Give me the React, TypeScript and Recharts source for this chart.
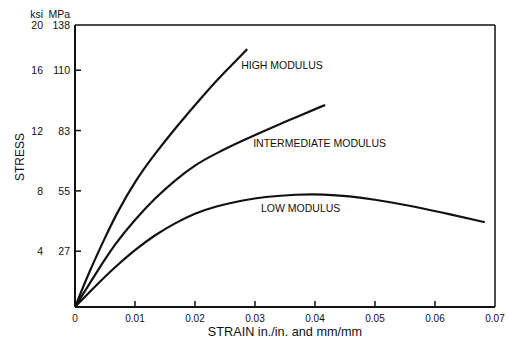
import { LineChart, Line, XAxis, YAxis, ReferenceDot } from 'recharts'

const STRAIN_TICKS = [0, 0.01, 0.02, 0.03, 0.04, 0.05, 0.06, 0.07]
const STRAIN_LABELS = ['0', '0.01', '0.02', '0.03', '0.04', '0.05', '0.06', '0.07']
const STRESS_TICKS = [4, 8, 12, 16, 19]
const KSI_LABELS = ['4', '8', '12', '16', '20']
const MPA_LABELS = ['27', '55', '83', '110', '138']

// stress in ksi (axis scale), strain in in./in.
const HIGH_MODULUS = [
  { strain: 0, stress: 0.3 },
  { strain: 0.0025, stress: 2.75 },
  { strain: 0.005, stress: 4.9 },
  { strain: 0.007, stress: 6.55 },
  { strain: 0.01, stress: 8.65 },
  { strain: 0.0133, stress: 10.45 },
  { strain: 0.0167, stress: 12.15 },
  { strain: 0.0214, stress: 14.36 },
  { strain: 0.025, stress: 15.9 },
  { strain: 0.0287, stress: 17.4 },
]

const INTERMEDIATE_MODULUS = [
  { strain: 0, stress: 0.3 },
  { strain: 0.0033, stress: 2.42 },
  { strain: 0.0067, stress: 4.52 },
  { strain: 0.01, stress: 6.1 },
  { strain: 0.0133, stress: 7.51 },
  { strain: 0.0167, stress: 8.72 },
  { strain: 0.02, stress: 9.72 },
  { strain: 0.0233, stress: 10.45 },
  { strain: 0.0283, stress: 11.4 },
  { strain: 0.0314, stress: 11.95 },
  { strain: 0.037, stress: 12.92 },
  { strain: 0.0417, stress: 13.7 },
]

const LOW_MODULUS = [
  { strain: 0, stress: 0.3 },
  { strain: 0.0033, stress: 1.65 },
  { strain: 0.0067, stress: 2.97 },
  { strain: 0.01, stress: 4.1 },
  { strain: 0.0133, stress: 5.07 },
  { strain: 0.0167, stress: 5.87 },
  { strain: 0.02, stress: 6.51 },
  { strain: 0.0233, stress: 6.97 },
  { strain: 0.0283, stress: 7.4 },
  { strain: 0.0314, stress: 7.6 },
  { strain: 0.037, stress: 7.77 },
  { strain: 0.0415, stress: 7.78 },
  { strain: 0.0458, stress: 7.64 },
  { strain: 0.0497, stress: 7.44 },
  { strain: 0.0553, stress: 7.06 },
  { strain: 0.0608, stress: 6.6 },
  { strain: 0.0683, stress: 5.92 },
]

const CURVE_LABELS = [
  { text: 'HIGH MODULUS', strain: 0.0277, stress: 16.35 },
  { text: 'INTERMEDIATE MODULUS', strain: 0.0297, stress: 11.16 },
  { text: 'LOW MODULUS', strain: 0.031, stress: 6.88 },
]

const FONT = '"Liberation Sans", Arial, sans-serif'
const INK = '#111'

function BottomTick({ x, y, payload }: any) {
  const i = STRAIN_TICKS.indexOf(payload.value)
  const edge = i === 0 || i === STRAIN_TICKS.length - 1
  return (
    <g>
      {!edge && <line x1={x} x2={x} y1={y} y2={y - 6} stroke={INK} strokeWidth={1.5} />}
      <text x={x} y={y + 11} textAnchor="middle" dominantBaseline="central" fontSize={10} fontFamily={FONT} fill={INK}>
        {STRAIN_LABELS[i]}
      </text>
    </g>
  )
}

function TopTick({ x, y, payload }: any) {
  const i = STRAIN_TICKS.indexOf(payload.value)
  if (i === 0 || i === STRAIN_TICKS.length - 1) return <g />
  return <line x1={x} x2={x} y1={y} y2={y + 6} stroke={INK} strokeWidth={1.5} />
}

function LeftTick({ x, y, payload }: any) {
  const i = STRESS_TICKS.indexOf(payload.value)
  const isTop = i === STRESS_TICKS.length - 1
  const common = { fontSize: 10.5, fontFamily: FONT, fill: INK, textAnchor: 'end' as const, dominantBaseline: 'central' as const }
  return (
    <g>
      {!isTop && <line x1={x} x2={x + 6} y1={y} y2={y} stroke={INK} strokeWidth={1.5} />}
      {isTop && (
        <>
          <text x={x - 32} y={y - 11} {...common}>ksi</text>
          <text x={x - 5} y={y - 11} {...common}>MPa</text>
        </>
      )}
      <text x={x - 32} y={y} {...common}>{KSI_LABELS[i]}</text>
      <text x={x - 5} y={y} {...common}>{MPA_LABELS[i]}</text>
    </g>
  )
}

function RightTick({ x, y, payload }: any) {
  const i = STRESS_TICKS.indexOf(payload.value)
  if (i === STRESS_TICKS.length - 1) return <g />
  return <line x1={x} x2={x - 6} y1={y} y2={y} stroke={INK} strokeWidth={1.5} />
}

function StressLabel() {
  return (
    <text
      x={20}
      y={157}
      transform="rotate(-90, 20, 157)"
      textAnchor="middle"
      dominantBaseline="central"
      fontSize={12}
      fontFamily={FONT}
      fill={INK}
    >
      STRESS
    </text>
  )
}

export default function App() {
  const axisLine = { stroke: INK, strokeWidth: 2 }
  return (
    <div style={{ position: 'absolute', left: 0, top: 0, background: '#fff' }}>
      <LineChart width={509} height={345} margin={{ top: 0, right: 0, bottom: 0, left: 0 }}>
        <XAxis
          xAxisId="bottom"
          type="number"
          dataKey="strain"
          domain={[0, 0.07]}
          ticks={STRAIN_TICKS}
          interval={0}
          height={38}
          tickSize={0}
          tickMargin={0}
          tickLine={false}
          axisLine={axisLine}
          tick={<BottomTick />}
          label={{
            value: 'STRAIN in./in. and mm/mm',
            position: 'insideBottom',
            offset: 9,
            fontSize: 12.7,
            fontFamily: FONT,
            fill: INK,
          }}
        />
        <XAxis
          xAxisId="top"
          orientation="top"
          type="number"
          dataKey="strain"
          domain={[0, 0.07]}
          ticks={STRAIN_TICKS}
          interval={0}
          height={25}
          tickSize={0}
          tickMargin={0}
          tickLine={false}
          axisLine={{ stroke: INK, strokeWidth: 1.5 }}
          tick={<TopTick />}
        />
        <YAxis
          yAxisId="left"
          type="number"
          domain={[0.3, 19]}
          ticks={STRESS_TICKS}
          interval={0}
          width={75}
          tickSize={0}
          tickMargin={0}
          tickLine={false}
          axisLine={axisLine}
          tick={<LeftTick />}
          label={<StressLabel />}
        />
        <YAxis
          yAxisId="right"
          orientation="right"
          type="number"
          domain={[0.3, 19]}
          ticks={STRESS_TICKS}
          interval={0}
          width={14}
          tickSize={0}
          tickMargin={0}
          tickLine={false}
          axisLine={{ stroke: INK, strokeWidth: 1.5 }}
          tick={<RightTick />}
        />
        {[HIGH_MODULUS, INTERMEDIATE_MODULUS, LOW_MODULUS].map((d, k) => (
          <Line
            key={k}
            xAxisId="bottom"
            yAxisId="left"
            data={d}
            dataKey="stress"
            type="basis"
            stroke={INK}
            strokeWidth={2.2}
            dot={false}
            activeDot={false}
            isAnimationActive={false}
          />
        ))}
        {CURVE_LABELS.map((l) => (
          <ReferenceDot
            key={l.text}
            xAxisId="bottom"
            yAxisId="left"
            x={l.strain}
            y={l.stress}
            r={0}
            fill="none"
            stroke="none"
            label={(props: any) => (
              <text
                x={props.viewBox.x}
                y={props.viewBox.y}
                dominantBaseline="central"
                fontSize={10.5}
                fontFamily={FONT}
                fill={INK}
              >
                {l.text}
              </text>
            )}
          />
        ))}
      </LineChart>
    </div>
  )
}
